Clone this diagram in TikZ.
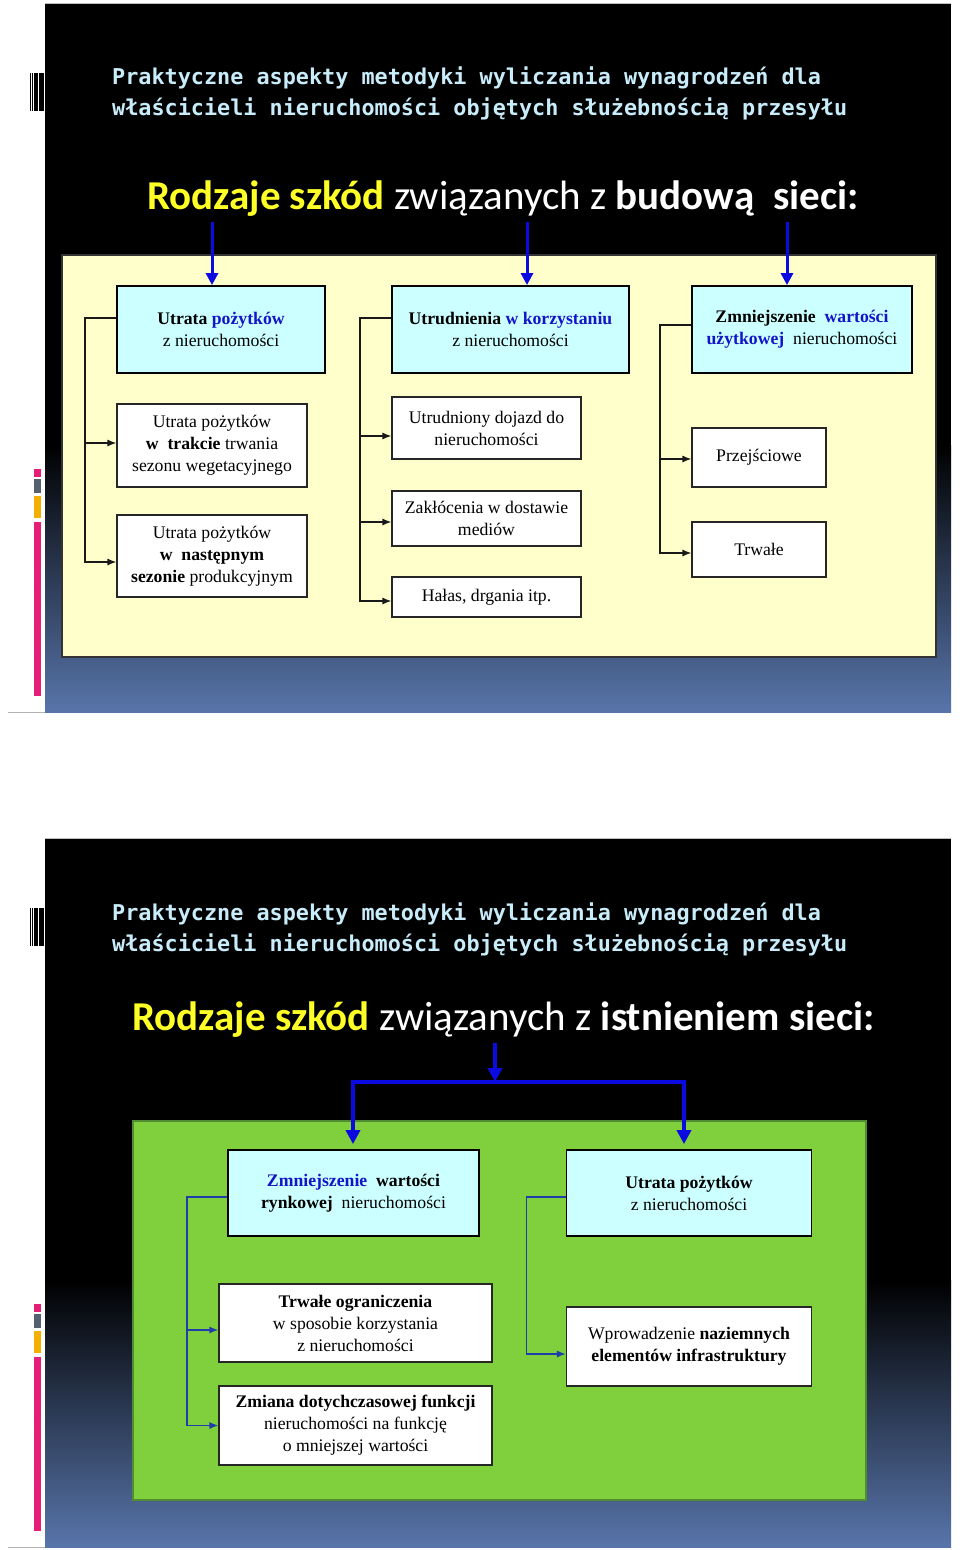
\documentclass[tikz,border=0pt]{standalone}
\usepackage{fontspec}
\setmainfont{Liberation Serif}
\newfontfamily\calibf{Carlito}
\newfontfamily\monof{DejaVu Sans Mono}
\usetikzlibrary{arrows.meta,calc}
\definecolor{slideblue}{RGB}{88,117,170}
\definecolor{titlecyan}{RGB}{200,236,250}
\definecolor{subyellow}{RGB}{255,255,40}
\definecolor{cyanbox}{RGB}{204,255,255}
\definecolor{panelyellow}{RGB}{255,255,204}
\definecolor{panelgreen}{RGB}{128,208,62}
\definecolor{greenedge}{RGB}{80,140,50}
\definecolor{tblue}{RGB}{20,20,200}
\definecolor{arrblue}{RGB}{10,10,225}
\definecolor{connblue}{RGB}{30,60,170}
\definecolor{barpink}{RGB}{230,30,120}
\definecolor{bargray}{RGB}{85,96,112}
\definecolor{barorange}{RGB}{245,175,0}
\newcommand\boxfont{\fontsize{17.7}{22}\selectfont}
\begin{document}
\begin{tikzpicture}[x=1pt,y=-1pt,
  cbox/.style={draw=black, line width=1.8pt, fill=cyanbox, inner sep=0pt, align=center, font=\boxfont},
  wbox/.style={draw=black!85, line width=1.1pt, fill=white, inner sep=0pt, align=center, font=\boxfont},
  titletext/.style={anchor=base west, inner sep=0pt, text=titlecyan, font=\monof\bfseries\fontsize{21.8}{26}\selectfont},
  subtext/.style={anchor=base, inner sep=0pt, text=white, font=\calibf\fontsize{41}{46}\selectfont},
  conna/.style={draw=black!90, line width=1.3pt, -{Latex[length=9pt,width=7pt]}},
  connb/.style={draw=connblue, line width=1.6pt, -{Latex[length=9pt,width=7pt]}},
  bluearr/.style={draw=arrblue, line width=3pt, -{Triangle[length=12pt,width=12pt]}},
  bluearrb/.style={draw=arrblue, line width=3.6pt, -{Triangle[length=14pt,width=14pt]}},
  blueline/.style={draw=arrblue, line width=3.6pt},
]
\useasboundingbox (0,0) rectangle (960,1550);
\fill[white] (0,0) rectangle (960,1550);

% ---------- slide backgrounds ----------
\foreach \off in {0,835}{
  \begin{scope}[yshift=-\off pt]
    \fill[black] (45,3) rectangle (951,445);
    \shade[top color=black, bottom color=slideblue] (45,445) rectangle (951,712);
    \draw[black!25, line width=0.8pt] (45,3) -- (951,3);
    \draw[black!30, line width=1pt] (8,712.5) -- (45,712.5);
    % barcode
    \fill[black] (30,73) rectangle (31,111);
    \fill[black] (32.3,73) rectangle (33.3,111);
    \fill[black] (34.2,73) rectangle (37.8,111);
    \fill[black] (38.8,73) rectangle (44,111);
    % colour bars
    \fill[barpink] (33.5,469) rectangle (41.3,477);
    \fill[bargray] (33.5,479) rectangle (41.3,493);
    \fill[barorange] (33.5,496) rectangle (41.3,518);
    \fill[barpink] (33.5,522) rectangle (41.3,696);
  \end{scope}
}

% ---------- slide 1 ----------
\node[titletext] (t1a) at (112,84) {Praktyczne aspekty metodyki wyliczania wynagrodzeń dla};
\node[titletext] (t1b) at (112,115) {właścicieli nieruchomości objętych służebnością przesyłu};
\node[subtext] (s1) at (503,209) {\textbf{\textcolor{subyellow}{Rodzaje szkód}} związanych z \textbf{budową\ \ sieci:}};

\fill[panelyellow] (62,255) rectangle (936,657);
\draw[black!80, line width=1.5pt] (62,255) rectangle (936,657);

\node[cbox, minimum width=208pt, minimum height=87pt] (A) at (221,329.5)
  {\textbf{Utrata \textcolor{tblue}{pożytków}}\\z nieruchomości};
\node[cbox, minimum width=237pt, minimum height=87pt] (B) at (510.5,329.5)
  {\textbf{Utrudnienia \textcolor{tblue}{w korzystaniu}}\\z nieruchomości};
\node[cbox, minimum width=220pt, minimum height=87pt] (C) at (802,329.5)
  {\textbf{Zmniejszenie\ \ \textcolor{tblue}{wartości}}\\\textbf{\textcolor{tblue}{użytkowej}}\ \ nieruchomości};

\node[wbox, minimum width=190pt, minimum height=83pt] (A1) at (212,445.5)
  {Utrata pożytków\\\textbf{w\ \ trakcie} trwania\\sezonu wegetacyjnego};
\node[wbox, minimum width=190pt, minimum height=82pt] (A2) at (212,556)
  {Utrata pożytków\\\textbf{w\ \ następnym}\\\textbf{sezonie} produkcyjnym};

\node[wbox, minimum width=189pt, minimum height=62pt] (B1) at (486.5,428)
  {Utrudniony dojazd do\\nieruchomości};
\node[wbox, minimum width=189pt, minimum height=55pt] (B2) at (486.5,518.5)
  {Zakłócenia w dostawie\\mediów};
\node[wbox, minimum width=189pt, minimum height=40pt] (B3) at (486.5,597)
  {Hałas, drgania itp.};

\node[wbox, minimum width=134pt, minimum height=59pt] (C1) at (759,457.5) {Przejściowe};
\node[wbox, minimum width=134pt, minimum height=55pt] (C2) at (759,549.5) {Trwałe};

% blue arrows from the heading
\coordinate (sa) at (212,222);
\coordinate (sb) at (527,222);
\coordinate (sc) at (787,222);
\draw[bluearr] (sa) -- (sa |- A.north);
\draw[bluearr] (sb) -- (sb |- B.north);
\draw[bluearr] (sc) -- (sc |- C.north);

% tree connectors
\draw[conna] ([yshift=11.5pt]A.west) -- ++(-31,0) |- ([yshift=-6pt]A2.west);
\draw[conna] ([yshift=2.5pt]A1.west) ++(-31,0) -- ([yshift=2.5pt]A1.west);

\draw[conna] ([yshift=11.5pt]B.west) -- ++(-31,0) |- ([yshift=-4pt]B3.west);
\draw[conna] ([yshift=-8pt]B1.west) ++(-31,0) -- ([yshift=-8pt]B1.west);
\draw[conna] ([yshift=-3.5pt]B2.west) ++(-31,0) -- ([yshift=-3.5pt]B2.west);

\draw[conna] ([yshift=4.5pt]C.west) -- ++(-31,0) |- ([yshift=-3.5pt]C2.west);
\draw[conna] ([yshift=-1.5pt]C1.west) ++(-31,0) -- ([yshift=-1.5pt]C1.west);

% ---------- slide 2 ----------
\node[titletext] (t2a) at (112,920) {Praktyczne aspekty metodyki wyliczania wynagrodzeń dla};
\node[titletext] (t2b) at (112,951) {właścicieli nieruchomości objętych służebnością przesyłu};
\node[subtext] (s2t) at (503.5,1030) {\textbf{\textcolor{subyellow}{Rodzaje szkód}} związanych z \textbf{istnieniem sieci:}};

\fill[panelgreen] (133,1121) rectangle (866,1500);
\draw[greenedge, line width=1.5pt] (133,1121) rectangle (866,1500);

\node[cbox, minimum width=251pt, minimum height=86pt] (D) at (353.5,1193)
  {\textbf{\textcolor{tblue}{Zmniejszenie}\ \ wartości}\\\textbf{rynkowej}\ \ nieruchomości};
\node[cbox, minimum width=245pt, minimum height=86pt] (E) at (689,1193)
  {\textbf{Utrata pożytków}\\z nieruchomości};

\node[wbox, minimum width=273pt, minimum height=78pt] (D1) at (355.5,1323)
  {\textbf{Trwałe ograniczenia}\\w sposobie korzystania\\z nieruchomości};
\node[wbox, minimum width=273pt, minimum height=79pt] (D2) at (355.5,1425.5)
  {\textbf{Zmiana dotychczasowej funkcji}\\nieruchomości\ na funkcję\\o mniejszej wartości};
\node[wbox, minimum width=245pt, minimum height=79pt] (E1) at (689,1346.5)
  {Wprowadzenie\ \textbf{naziemnych}\\\textbf{elementów infrastruktury}};

\coordinate (s2) at (495,1043);
\coordinate (L) at (353,1082);
\coordinate (R) at (684,1082);
\draw[bluearrb] (s2) -- (s2 |- L);
\draw[blueline, line cap=rect] (L) -- (R);
\draw[bluearrb, shorten >=5pt] (L) -- (L |- D.north);
\draw[bluearrb, shorten >=5pt] (R) -- (R |- E.north);

\draw[connb] ([yshift=-4pt]D.west) -- ++(-40,0) |- (D2.west);
\draw[connb] ([yshift=-7pt]D1.west) ++(-31,0) -- ([yshift=-7pt]D1.west);
\draw[connb] ([yshift=-4pt]E.west) -- ++(-39,0) |- ([yshift=-7.5pt]E1.west);
\end{tikzpicture}
\end{document}
